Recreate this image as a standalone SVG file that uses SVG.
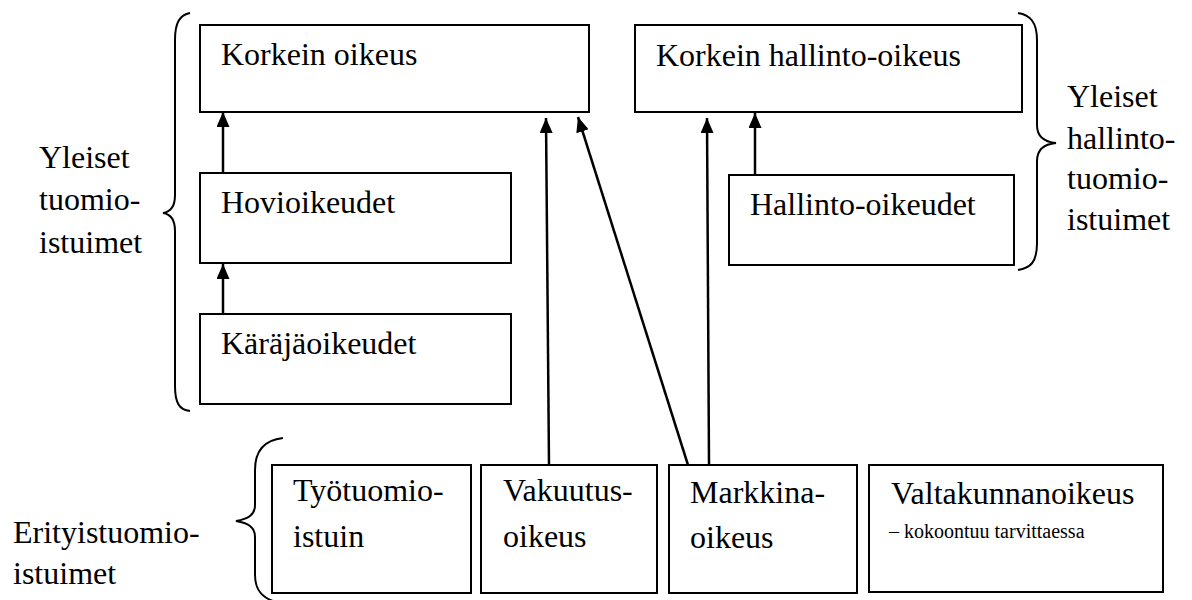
<svg xmlns="http://www.w3.org/2000/svg" width="1192" height="600" viewBox="0 0 1192 600" font-family="'Liberation Serif', 'DejaVu Serif', 'Times New Roman', serif">
<style>
.box{fill:#fff;stroke:#000;stroke-width:2}
text{font-family:'Liberation Serif','DejaVu Serif','Times New Roman',serif;fill:#000}
.t{font-size:32px}
.s{font-size:20px}
.c{stroke:#000;stroke-width:2.5;fill:none;marker-end:url(#ah)}
.br{stroke:#000;stroke-width:2;fill:none}
</style>
<defs>
<marker id="ah" markerUnits="userSpaceOnUse" markerWidth="16" markerHeight="13" refX="15" refY="6.5" orient="auto">
<path d="M0,0 L15,6.5 L0,13 z" fill="#000"/>
</marker>
</defs>
<rect width="1192" height="600" fill="#fff"/>
<g id="braces">
<path class="br" d="M190,13 C180,15 175,22 175,40 L175,195 C175,207 170,212 163,213 C170,214 175,219 175,231 L175,386 C175,404 180,410 190,411"/>
<path class="br" d="M1018,13 C1030,15 1037,22 1037,40 L1037,125 C1037,137 1045,142 1056,143 C1045,144 1037,149 1037,161 L1037,243 C1037,263 1030,268 1018,270"/>
<path class="br" d="M283,438 C265,440 255,450 255,470 L255,505 C255,515 248,519 236,521 C248,523 255,527 255,537 L255,575 C255,590 262,598 276,602"/>
</g>
<g id="labels">
<text class="t" x="39" y="168" font-family="Liberation Serif">Yleiset</text>
<text class="t" x="39" y="210" font-family="Liberation Serif">tuomio-</text>
<text class="t" x="39" y="253" font-family="Liberation Serif">istuimet</text>
<text class="t" x="1067" y="107" font-family="Liberation Serif">Yleiset</text>
<text class="t" x="1067" y="149" font-family="Liberation Serif">hallinto-</text>
<text class="t" x="1067" y="189" font-family="Liberation Serif">tuomio-</text>
<text class="t" x="1067" y="230" font-family="Liberation Serif">istuimet</text>
<text class="t" x="13" y="543" font-family="Liberation Serif">Erityistuomio-</text>
<text class="t" x="13" y="584" font-family="Liberation Serif">istuimet</text>
</g>
<g id="n-ko"><rect class="box" x="200" y="25" width="389" height="87"/><text class="t" x="221" y="65">Korkein oikeus</text></g>
<g id="n-kho"><rect class="box" x="635" y="25" width="387" height="87"/><text class="t" x="656" y="66">Korkein hallinto-oikeus</text></g>
<g id="n-hovi"><rect class="box" x="200" y="173" width="311" height="90"/><text class="t" x="221" y="213">Hovioikeudet</text></g>
<g id="n-hao"><rect class="box" x="729" y="175" width="285" height="90"/><text class="t" x="750" y="215">Hallinto-oikeudet</text></g>
<g id="n-kar"><rect class="box" x="200" y="314" width="311" height="90"/><text class="t" x="221" y="354">Käräjäoikeudet</text></g>
<g id="n-tyo"><rect class="box" x="272" y="465" width="199" height="128"/><text class="t" x="293" y="501">Työtuomio-</text><text class="t" x="293" y="547">istuin</text></g>
<g id="n-vak"><rect class="box" x="481" y="465" width="176" height="128"/><text class="t" x="503" y="501">Vakuutus-</text><text class="t" x="503" y="547">oikeus</text></g>
<g id="n-mar"><rect class="box" x="669" y="465" width="188" height="128"/><text class="t" x="690" y="503">Markkina-</text><text class="t" x="690" y="548">oikeus</text></g>
<g id="n-val"><rect class="box" x="869" y="465" width="294" height="127"/><text class="t" x="891" y="504">Valtakunnanoikeus</text><text class="s" x="889" y="538">– kokoontuu tarvittaessa</text></g>
<g id="connectors">
<line class="c" x1="223" y1="173" x2="223" y2="112"/>
<line class="c" x1="223" y1="314" x2="223" y2="264"/>
<line class="c" x1="549" y1="465" x2="546" y2="118"/>
<line class="c" x1="688" y1="465" x2="578" y2="117"/>
<line class="c" x1="709" y1="465" x2="707" y2="118"/>
<line class="c" x1="755" y1="175" x2="755" y2="113"/>
</g>
</svg>
